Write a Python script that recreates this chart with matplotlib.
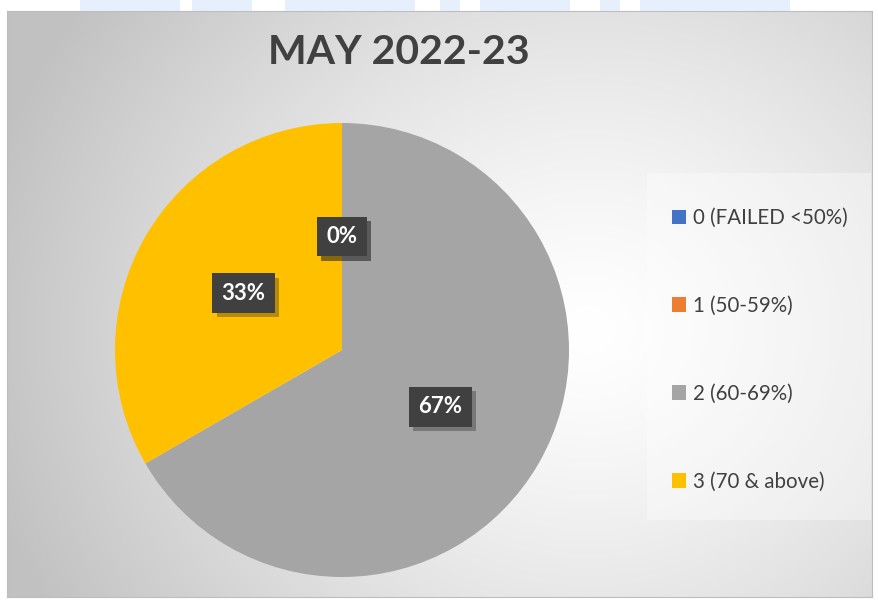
import numpy as np
import matplotlib.pyplot as plt
from matplotlib.patches import Rectangle
from matplotlib import patheffects as pe

title = "MAY 2022-23"
categories = ["0 (FAILED <50%)", "1 (50-59%)", "2 (60-69%)", "3 (70 & above)"]
counts = [0, 0, 2, 1]
colors = ["#4472c4", "#ed7d31", "#a5a5a5", "#ffc000"]

W, H = 879, 601
fig = plt.figure(figsize=(W / 100, H / 100), dpi=100)
fig.patch.set_facecolor("white")

# chart area with radial gray gradient
x0, y0, x1, y1 = 7, 11, 872, 597
bg = fig.add_axes([x0 / W, 1 - y1 / H, (x1 - x0) / W, (y1 - y0) / H])
gx, gy = np.meshgrid(np.linspace(x0, x1, 400), np.linspace(y0, y1, 300))
d = np.hypot(gx - 590, (gy - 330) * 1.1) / 620
shade = 1 - 0.24 * np.clip(d, 0, 1) ** 1.3
bg.imshow(np.dstack([shade] * 3), aspect="auto", extent=(0, 1, 0, 1), interpolation="bilinear")
bg.set_xlim(0, 1)
bg.set_ylim(0, 1)
bg.set_xticks([])
bg.set_yticks([])
for s in bg.spines.values():
    s.set_color("#bdbdbd")
    s.set_linewidth(0.8)

# legend backdrop
bg.add_patch(Rectangle(((647 - x0) / (x1 - x0), 1 - (520 - y0) / (y1 - y0)),
                       (871 - 647) / (x1 - x0), (520 - 173) / (y1 - y0),
                       transform=bg.transAxes, facecolor="white", alpha=0.35,
                       edgecolor="none"))

# faint blue smudges above the chart
for sx, sw in [(80, 100), (192, 60), (285, 130), (440, 20), (480, 90), (600, 20), (640, 150)]:
    fig.patches.append(Rectangle((sx / W, 1 - 11 / H), sw / W, 11 / H,
                                 transform=fig.transFigure, facecolor="#dce9fb",
                                 edgecolor="none", alpha=0.7))

fig.text(399 / W, 1 - 53 / H, title, ha="center", va="center", fontsize=29.5,
         fontweight="bold", color="#404040", family="Lato")

cx, cy, r = 342, 350, 227
ax = fig.add_axes([(cx - r) / W, 1 - (cy + r) / H, 2 * r / W, 2 * r / H])
wedges, texts, autotexts = ax.pie(counts, colors=colors, startangle=90, counterclock=False,
                                  autopct="%1.0f%%", pctdistance=0.5,
                                  wedgeprops=dict(linewidth=0))
ax.set_xlim(-1, 1)
ax.set_ylim(-1, 1)
ax.set_aspect("equal")
for t in autotexts:
    t.set_color("white")
    t.set_fontsize(16)
    t.set_fontweight("bold")
    t.set_family("Lato")
    t.set_bbox(dict(boxstyle="square,pad=0.42", facecolor="#404040", edgecolor="none"))
    t.get_bbox_patch().set_path_effects([pe.SimplePatchShadow(offset=(3, -3), alpha=0.3),
                                         pe.Normal()])

fig.legend(wedges, categories, loc="upper left", bbox_to_anchor=(672 / W, 1 - 208 / H),
           frameon=False, labelspacing=3.3, handlelength=0.7,
           handleheight=0.7, handletextpad=0.3, borderpad=0, borderaxespad=0,
           labelcolor="#404040", prop=dict(family="Lato", size=14.8))

fig.savefig("out.png", dpi=100)
